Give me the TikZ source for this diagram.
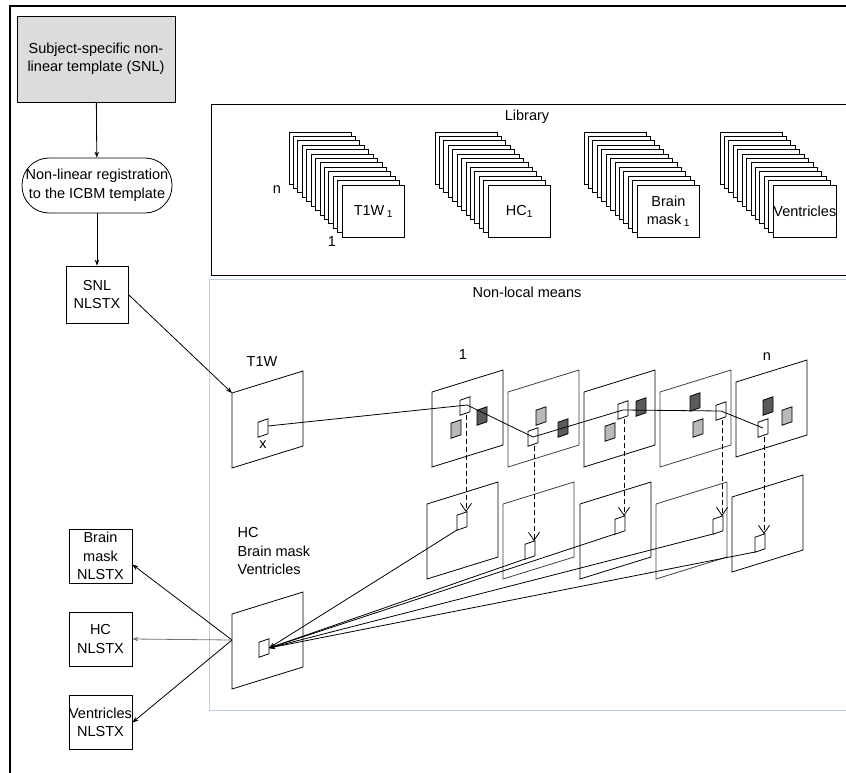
\documentclass[tikz,border=0pt]{standalone}
\usepackage{fontspec}
\setmainfont{Liberation Sans}
\usepackage{tikz}
\usetikzlibrary{arrows.meta, calc, positioning}
\definecolor{snlgray}{RGB}{220,220,220}
\definecolor{nlmframe}{RGB}{190,205,222}
\definecolor{darkpatch}{RGB}{90,90,90}
\definecolor{lightpatch}{RGB}{185,185,185}

\tikzset{
  flowbox/.style={draw, rectangle, align=center, inner sep=1pt},
  outbox/.style={flowbox, minimum width=63pt, minimum height=54pt},
}
% slice seen in perspective (colour, top-left x, top-left y)
\newcommand{\mriplane}[3]{\draw[draw=#1] (#2,#3) -- ++(71,-22) -- ++(0,75) -- ++(-71,22) -- cycle;}
% small patch (fill, centre)
\newcommand{\mripatch}[2]{\filldraw[fill=#1, shift={(#2)}] (-5,-5.75) -- (5,-9.25) -- (5,5.75) -- (-5,9.25) -- cycle;}

\begin{document}
\begin{tikzpicture}[x=1pt, y=-1pt, line width=0.8pt,
  font=\fontsize{14.5}{18.5}\selectfont,
  >={Stealth[length=6pt,width=4.5pt]}]
\useasboundingbox (0,0) rectangle (846,773);

% Frame
\draw[line width=2.2pt] (10,773) -- (10,6) -- (846,6);

% Left column
\node[flowbox, fill=snlgray, minimum width=158pt, minimum height=86pt] (snl) at (96,59) {Subject-specific non-\\linear template (SNL)};
\node[flowbox, rounded corners=27pt, minimum width=150pt, minimum height=55pt, inner sep=0pt] (reg) at (97,185.5) {Non-linear registration\\to the ICBM template};
\node[flowbox, minimum width=62pt, minimum height=57pt] (snlx) at (97,294.5) {SNL\\NLSTX};
\draw[->] (snl) -- (reg);
\draw[->] (reg) -- (snlx);

\node[outbox] (bmx) at (100.5,556) {Brain\\mask\\NLSTX};
\node[outbox] (hcx) at (100.5,639) {HC\\NLSTX};
\node[outbox, inner sep=0pt] (vex) at (100.5,722.5) {Ventricles\\NLSTX};

% Library
\draw (846,104) -- (211,104) -- (211,275) -- (846,275);
\node (lib) at (527,117) {Library};
\foreach \name/\fx/\txt in {t1w/342/{T1W\,\textsubscript{1}}, hc/488/{HC\textsubscript{1}}, bm/637/{Brain\\mask\,\textsubscript{1}}, ve/773/{Ventricles}} {
  \foreach \i in {12,11,...,1}
    \draw[fill=white] (\fx-\i*4.42,185-\i*4.42) rectangle ++(62,52);
  \node[draw, fill=white, align=center, minimum width=62pt, minimum height=52pt, inner sep=0pt, anchor=north west] (\name1) at (\fx,185) {\txt};
}
\node (libn) at (277,190) {n};
\node (lib1) at (332,242) {1};

% Non-local means
\draw[nlmframe] (846,279) -- (209,279) -- (209,710) -- (846,710);
\node (nlm) at (527,292) {Non-local means};

% T1W slice
\mriplane{black}{232}{393}
\node (t1wlab) at (262,362) {T1W};
\coordinate (t1wtl) at (232,393);
\coordinate (x0) at (263,428);
\mripatch{white}{x0}
\node (xlab) at (263,445) {x};
\draw[->] (snlx.east) -- (t1wtl);

% Library slices 1..n
\foreach \px/\py/\col in {432/392/black, 508/392/black!75, 584/392/black, 660/392/black!75, 736/382/black}
  \mriplane{\col}{\px}{\py};
\foreach \px/\py/\col in {427/504/black, 503/504/black!75, 580/504/black, 656/504/black!75, 732/497/black}
  \mriplane{\col}{\px}{\py};
\node (top1) at (463,355) {1};
\node (topn) at (767,357) {n};

% Patches
\foreach \i/\ox/\oy/\dx/\dy/\lx/\ly/\qy in {1/465/406/482/416/456/429/521, 2/533/437/563/428/541/416/550, 3/623/410/641/407/610/432/525, 4/721/411/695/402/698/428/525, 5/763/428/768/406/787/416/543} {
  \coordinate (p\i) at (\ox,\oy);
  \coordinate (q\i) at (\ox-3,\qy);
  \mripatch{darkpatch}{\dx,\dy}
  \mripatch{lightpatch}{\lx,\ly}
  \mripatch{white}{p\i}
  \mripatch{white}{q\i}
}
\draw ($(x0)+(5,-2)$) -- ($(p1)+(2,-1)$) -- (p2) -- (p3) -- (p4) -- (p5);
\foreach \i in {1,...,5}
  \draw[dash pattern=on 5pt off 3pt, -{Straight Barb[length=8pt,width=11pt]}] ($(p\i)+(1,9)$) -- ($(q\i)+(4,-9)$);

% HC / Brain mask / Ventricles slice
\node[align=left, anchor=north west] (hclab) at (234,524) {HC\\Brain mask\\Ventricles};
\mriplane{black}{232}{614}
\coordinate (hcp) at (264,648);
\mripatch{white}{hcp}
\foreach \i in {1,...,5}
  \draw[->] ($(q\i)+(-5,9)$) -- ($(hcp)+(5,0)$);

% Output
\coordinate (hcl) at (232,640);
\draw[->] (hcl) -- (bmx.-15);
\draw[->, black!55] (hcl) -- (hcx.east);
\draw[->] (hcl) -- (vex.east);
\end{tikzpicture}
\end{document}
